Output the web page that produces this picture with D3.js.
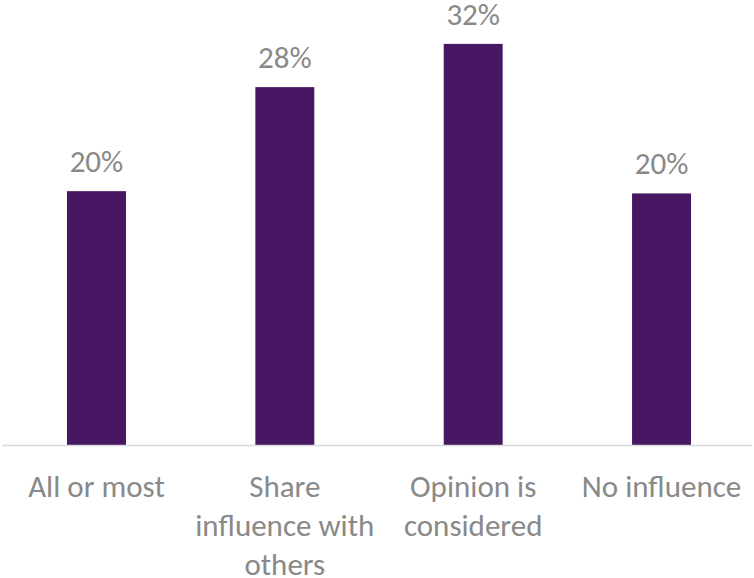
<!DOCTYPE html>
<html>
<head>
<meta charset="utf-8">
<script src="https://cdn.jsdelivr.net/npm/d3@7"></script>
<style>
  html, body { margin: 0; padding: 0; background: #fff; }
  svg { display: block; }
  text { font-family: Calibri, Carlito, Lato, "Open Sans", sans-serif; fill: #898989; }
</style>
</head>
<body>
<svg id="chart" width="754" height="578"></svg>
<script>
const categories = [["All or most"], ["Share", "influence with", "others"], ["Opinion is", "considered"], ["No influence"]];
const categoryNames = ["All or most", "Share influence with others", "Opinion is considered", "No influence"];
const values = [20.25, 28.55, 32.0, 20.07];
const valueLabels = ["20%", "28%", "32%", "20%"];

const svg = d3.select("#chart");

const x = d3.scaleBand().domain(categoryNames).range([2, 756]).paddingInner(0.687).paddingOuter(0.345);
const y = d3.scaleLinear().domain([0, 35.5]).range([445, 0]);

svg.selectAll("rect.bar")
  .data(values)
  .enter().append("rect")
  .attr("class", "bar")
  .attr("x", (d, i) => x(categoryNames[i]))
  .attr("width", x.bandwidth())
  .attr("y", d => y(d))
  .attr("height", d => y(0) - y(d))
  .attr("fill", "#471763");

// axis line
svg.append("line")
  .attr("x1", 2).attr("x2", 752)
  .attr("y1", y(0) + 0.5).attr("y2", y(0) + 0.5)
  .attr("stroke", "#d9d9d9").attr("stroke-width", 1.5);

const fs = 31;
svg.selectAll("text.val")
  .data(values)
  .enter().append("text")
  .attr("class", "val")
  .attr("x", (d, i) => x(categoryNames[i]) + x.bandwidth() / 2)
  .attr("y", d => y(d) - 19)
  .attr("text-anchor", "middle")
  .style("font-size", fs + "px")
  .text((d, i) => valueLabels[i]);

categories.forEach((lines, i) => {
  const t = svg.append("text")
    .attr("class", "cat")
    .attr("text-anchor", "middle")
    .style("font-size", fs + "px");
  lines.forEach((ln, j) => {
    t.append("tspan")
      .attr("x", x(categoryNames[i]) + x.bandwidth() / 2)
      .attr("y", 497 + j * 38.8)
      .text(ln);
  });
});
</script>
</body>
</html>
